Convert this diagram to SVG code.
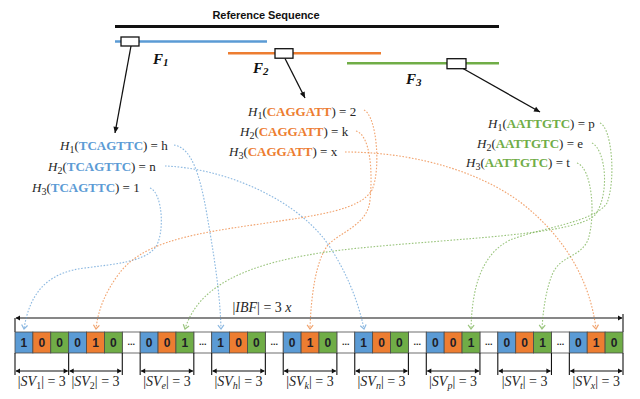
<svg xmlns="http://www.w3.org/2000/svg" width="640" height="399" viewBox="0 0 640 399">
<style>
.t{font-family:"Liberation Serif",serif;font-size:13px;fill:#262626}
.i{font-style:italic}
.sb{font-weight:bold}
.cb{fill:#5b9bd5}.co{fill:#ed7d31}.cg{fill:#70ad47}
.cell{stroke:#4a4a4a;stroke-width:0.8}
.w{fill:#ffffff}
.d{font-family:"Liberation Sans",sans-serif;font-weight:bold;font-size:12px;fill:#1e1e28;text-anchor:middle}
.dots{font-family:"Liberation Sans",sans-serif;font-weight:bold;font-size:9px;fill:#222;text-anchor:middle}
.lab{font-family:"Liberation Serif",serif;font-size:14px;fill:#262626;text-anchor:middle}
.br{stroke:#111;stroke-width:1.1;fill:none}
.bra{stroke:#111;stroke-width:1.1;fill:none;marker-start:url(#ah);marker-end:url(#ah)}
.dl{fill:none;stroke-width:1.1;stroke-dasharray:1.6 1.6;opacity:0.7}
.lb{stroke:#5b9bd5;marker-end:url(#mb)}
.lo{stroke:#ed7d31;marker-end:url(#mo)}
.lg{stroke:#70ad47;marker-end:url(#mg)}
.ka{stroke:#111;stroke-width:1.3;fill:none;marker-end:url(#ak)}
.box{fill:#fff;stroke:#111;stroke-width:1.3}
.fl{font-family:"Liberation Serif",serif;font-weight:bold;font-style:italic;font-size:15px;fill:#111}
</style>
<defs>
<marker id="ak" markerWidth="8" markerHeight="8" refX="6" refY="3" orient="auto" markerUnits="userSpaceOnUse" overflow="visible"><path d="M0,0.3 L6,3 L0,5.7 z" fill="#111"/></marker>
<marker id="ah" markerWidth="6" markerHeight="6" refX="4" refY="2.5" orient="auto-start-reverse" markerUnits="userSpaceOnUse" overflow="visible"><path d="M0,0 L4.5,2.5 L0,5 z" fill="#111"/></marker>
<marker id="mb" markerWidth="8" markerHeight="8" refX="4" refY="3" orient="auto" markerUnits="userSpaceOnUse" overflow="visible"><path d="M0,0 L4,3 L0,6" fill="none" stroke="#5b9bd5" stroke-width="1.2"/></marker>
<marker id="mo" markerWidth="8" markerHeight="8" refX="4" refY="3" orient="auto" markerUnits="userSpaceOnUse" overflow="visible"><path d="M0,0 L4,3 L0,6" fill="none" stroke="#ed7d31" stroke-width="1.2"/></marker>
<marker id="mg" markerWidth="8" markerHeight="8" refX="4" refY="3" orient="auto" markerUnits="userSpaceOnUse" overflow="visible"><path d="M0,0 L4,3 L0,6" fill="none" stroke="#70ad47" stroke-width="1.2"/></marker>
</defs>
<rect width="640" height="399" fill="#fff"/>

<g id="reference">
<text x="266" y="19" font-family="Liberation Sans,sans-serif" font-weight="bold" font-size="11" fill="#111" text-anchor="middle" textLength="107">Reference Sequence</text>
<line x1="115" y1="26.5" x2="499" y2="26.5" stroke="#111" stroke-width="2.8"/>
</g>

<g id="F1">
<line x1="115" y1="41.5" x2="267" y2="41.5" stroke="#5b9bd5" stroke-width="2.4"/>
<rect class="box" x="121" y="37" width="18" height="9"/>
<text class="fl" x="153" y="64">F<tspan font-size="11" dy="2">1</tspan></text>
</g>
<g id="F2">
<line x1="228" y1="53.3" x2="381" y2="53.3" stroke="#ed7d31" stroke-width="2.4"/>
<rect class="box" x="275" y="48.7" width="18" height="9.5"/>
<text class="fl" x="253" y="73">F<tspan font-size="11" dy="2">2</tspan></text>
</g>
<g id="F3">
<line x1="347" y1="63.3" x2="499" y2="63.3" stroke="#70ad47" stroke-width="2.4"/>
<rect class="box" x="447" y="58.7" width="19" height="10"/>
<text class="fl" x="406" y="84">F<tspan font-size="11" dy="2">3</tspan></text>
</g>

<g id="hash-F1">
<text class="t" x="60" y="150"><tspan class="i">H</tspan><tspan font-size="10" dy="3">1</tspan><tspan dy="-3">(</tspan><tspan class="sb cb">TCAGTTC</tspan>) = h</text>
<text class="t" x="48" y="171"><tspan class="i">H</tspan><tspan font-size="10" dy="3">2</tspan><tspan dy="-3">(</tspan><tspan class="sb cb">TCAGTTC</tspan>) = n</text>
<text class="t" x="32" y="192"><tspan class="i">H</tspan><tspan font-size="10" dy="3">3</tspan><tspan dy="-3">(</tspan><tspan class="sb cb">TCAGTTC</tspan>) = 1</text>
</g>
<g id="hash-F2">
<text class="t" x="248" y="116"><tspan class="i">H</tspan><tspan font-size="10" dy="3">1</tspan><tspan dy="-3">(</tspan><tspan class="sb co">CAGGATT</tspan>) = 2</text>
<text class="t" x="240" y="136"><tspan class="i">H</tspan><tspan font-size="10" dy="3">2</tspan><tspan dy="-3">(</tspan><tspan class="sb co">CAGGATT</tspan>) = k</text>
<text class="t" x="229" y="156"><tspan class="i">H</tspan><tspan font-size="10" dy="3">3</tspan><tspan dy="-3">(</tspan><tspan class="sb co">CAGGATT</tspan>) = x</text>
</g>
<g id="hash-F3">
<text class="t" x="488" y="128"><tspan class="i">H</tspan><tspan font-size="10" dy="3">1</tspan><tspan dy="-3">(</tspan><tspan class="sb cg">AATTGTC</tspan>) = p</text>
<text class="t" x="477" y="148"><tspan class="i">H</tspan><tspan font-size="10" dy="3">2</tspan><tspan dy="-3">(</tspan><tspan class="sb cg">AATTGTC</tspan>) = e</text>
<text class="t" x="466" y="167"><tspan class="i">H</tspan><tspan font-size="10" dy="3">3</tspan><tspan dy="-3">(</tspan><tspan class="sb cg">AATTGTC</tspan>) = t</text>
</g>

<g id="ibf">
<line class="br" x1="15" y1="318" x2="15" y2="332"/>
<line class="br" x1="623" y1="314" x2="623" y2="332"/>
<line class="bra" x1="16" y1="318" x2="622" y2="318"/>
<text class="lab" x="262" y="312">|<tspan class="i">IBF</tspan>| = 3 <tspan class="i">x</tspan></text>
<g id="gaps">
<rect class="cell w" x="122.29" y="332" width="17.88" height="21"/><text class="dots" x="131.23" y="345">...</text>
<rect class="cell w" x="193.82" y="332" width="17.88" height="21"/><text class="dots" x="202.76" y="345">...</text>
<rect class="cell w" x="265.35" y="332" width="17.88" height="21"/><text class="dots" x="274.29" y="345">...</text>
<rect class="cell w" x="336.88" y="332" width="17.88" height="21"/><text class="dots" x="345.82" y="345">...</text>
<rect class="cell w" x="408.40" y="332" width="17.88" height="21"/><text class="dots" x="417.34" y="345">...</text>
<rect class="cell w" x="479.93" y="332" width="17.88" height="21"/><text class="dots" x="488.87" y="345">...</text>
<rect class="cell w" x="551.46" y="332" width="17.88" height="21"/><text class="dots" x="560.40" y="345">...</text>
</g>
</g>

<g id="sv1">
<rect class="cell cb" x="15.00" y="332" width="17.88" height="21"/><text class="d" x="23.94" y="347">1</text>
<rect class="cell co" x="32.88" y="332" width="17.88" height="21"/><text class="d" x="41.82" y="347">0</text>
<rect class="cell cg" x="50.76" y="332" width="17.88" height="21"/><text class="d" x="59.70" y="347">0</text>
<path class="br" d="M15,353V375M68.65,353V375"/><line class="bra" x1="16" y1="371" x2="67.6" y2="371"/>
<text class="lab" x="41.8" y="386">|<tspan class="i">SV</tspan><tspan font-size="10" dy="2.5">1</tspan><tspan dy="-2.5">| = 3</tspan></text>
</g>
<g id="sv2">
<rect class="cell cb" x="68.65" y="332" width="17.88" height="21"/><text class="d" x="77.59" y="347">0</text>
<rect class="cell co" x="86.53" y="332" width="17.88" height="21"/><text class="d" x="95.47" y="347">1</text>
<rect class="cell cg" x="104.41" y="332" width="17.88" height="21"/><text class="d" x="113.35" y="347">0</text>
<path class="br" d="M122.29,353V375"/><line class="bra" x1="69.7" y1="371" x2="121.2" y2="371"/>
<text class="lab" x="95.5" y="386">|<tspan class="i">SV</tspan><tspan font-size="10" dy="2.5">2</tspan><tspan dy="-2.5">| = 3</tspan></text>
</g>
<g id="sve">
<rect class="cell cb" x="140.17" y="332" width="17.88" height="21"/><text class="d" x="149.11" y="347">0</text>
<rect class="cell co" x="158.06" y="332" width="17.88" height="21"/><text class="d" x="167.00" y="347">0</text>
<rect class="cell cg" x="175.94" y="332" width="17.88" height="21"/><text class="d" x="184.88" y="347">1</text>
<path class="br" d="M140.17,353V375M193.82,353V375"/><line class="bra" x1="141.2" y1="371" x2="192.8" y2="371"/>
<text class="lab" x="167" y="386">|<tspan class="i">SV</tspan><tspan class="i" font-size="10" dy="2.5">e</tspan><tspan dy="-2.5">| = 3</tspan></text>
</g>
<g id="svh">
<rect class="cell cb" x="211.70" y="332" width="17.88" height="21"/><text class="d" x="220.64" y="347">1</text>
<rect class="cell co" x="229.58" y="332" width="17.88" height="21"/><text class="d" x="238.52" y="347">0</text>
<rect class="cell cg" x="247.47" y="332" width="17.88" height="21"/><text class="d" x="256.41" y="347">0</text>
<path class="br" d="M211.7,353V375M265.35,353V375"/><line class="bra" x1="212.7" y1="371" x2="264.3" y2="371"/>
<text class="lab" x="238.5" y="386">|<tspan class="i">SV</tspan><tspan class="i" font-size="10" dy="2.5">h</tspan><tspan dy="-2.5">| = 3</tspan></text>
</g>
<g id="svk">
<rect class="cell cb" x="283.23" y="332" width="17.88" height="21"/><text class="d" x="292.17" y="347">0</text>
<rect class="cell co" x="301.11" y="332" width="17.88" height="21"/><text class="d" x="310.05" y="347">1</text>
<rect class="cell cg" x="318.99" y="332" width="17.88" height="21"/><text class="d" x="327.93" y="347">0</text>
<path class="br" d="M283.23,353V375M336.88,353V375"/><line class="bra" x1="284.2" y1="371" x2="335.8" y2="371"/>
<text class="lab" x="310" y="386">|<tspan class="i">SV</tspan><tspan class="i" font-size="10" dy="2.5">k</tspan><tspan dy="-2.5">| = 3</tspan></text>
</g>
<g id="svn">
<rect class="cell cb" x="354.76" y="332" width="17.88" height="21"/><text class="d" x="363.70" y="347">1</text>
<rect class="cell co" x="372.64" y="332" width="17.88" height="21"/><text class="d" x="381.58" y="347">0</text>
<rect class="cell cg" x="390.52" y="332" width="17.88" height="21"/><text class="d" x="399.46" y="347">0</text>
<path class="br" d="M354.76,353V375M408.4,353V375"/><line class="bra" x1="355.8" y1="371" x2="407.4" y2="371"/>
<text class="lab" x="381.6" y="386">|<tspan class="i">SV</tspan><tspan class="i" font-size="10" dy="2.5">n</tspan><tspan dy="-2.5">| = 3</tspan></text>
</g>
<g id="svp">
<rect class="cell cb" x="426.29" y="332" width="17.88" height="21"/><text class="d" x="435.23" y="347">0</text>
<rect class="cell co" x="444.17" y="332" width="17.88" height="21"/><text class="d" x="453.11" y="347">0</text>
<rect class="cell cg" x="462.05" y="332" width="17.88" height="21"/><text class="d" x="470.99" y="347">1</text>
<path class="br" d="M426.29,353V375M479.93,353V375"/><line class="bra" x1="427.3" y1="371" x2="478.9" y2="371"/>
<text class="lab" x="453.1" y="386">|<tspan class="i">SV</tspan><tspan class="i" font-size="10" dy="2.5">p</tspan><tspan dy="-2.5">| = 3</tspan></text>
</g>
<g id="svt">
<rect class="cell cb" x="497.81" y="332" width="17.88" height="21"/><text class="d" x="506.75" y="347">0</text>
<rect class="cell co" x="515.70" y="332" width="17.88" height="21"/><text class="d" x="524.64" y="347">0</text>
<rect class="cell cg" x="533.58" y="332" width="17.88" height="21"/><text class="d" x="542.52" y="347">1</text>
<path class="br" d="M497.81,353V375M551.46,353V375"/><line class="bra" x1="498.8" y1="371" x2="550.4" y2="371"/>
<text class="lab" x="524.6" y="386">|<tspan class="i">SV</tspan><tspan class="i" font-size="10" dy="2.5">t</tspan><tspan dy="-2.5">| = 3</tspan></text>
</g>
<g id="svx">
<rect class="cell cb" x="569.34" y="332" width="17.88" height="21"/><text class="d" x="578.28" y="347">0</text>
<rect class="cell co" x="587.22" y="332" width="17.88" height="21"/><text class="d" x="596.16" y="347">1</text>
<rect class="cell cg" x="605.11" y="332" width="17.88" height="21"/><text class="d" x="614.05" y="347">0</text>
<path class="br" d="M569.34,353V375M623,353V375"/><line class="bra" x1="570.3" y1="371" x2="622" y2="371"/>
<text class="lab" x="596.2" y="386">|<tspan class="i">SV</tspan><tspan class="i" font-size="10" dy="2.5">x</tspan><tspan dy="-2.5">| = 3</tspan></text>
</g>

<g id="connectors">
<line class="ka" x1="131" y1="46" x2="115" y2="133"/>
<line class="ka" x1="285" y1="58.5" x2="305" y2="98"/>
<line class="ka" x1="463" y1="68.5" x2="540" y2="112"/>
<path class="dl lb" d="M174,145 C192,148 200,175 207,215 C213,250 220,290 221,329"/>
<path class="dl lb" d="M165,166 C220,168 290,195 325,240 C345,268 358,300 364,329"/>
<path class="dl lb" d="M150,188 C163,193 165,235 155,248 C143,262 115,264 85,268 C50,272 30,290 24,329"/>
<path class="dl lo" d="M364,110 C377,116 381,170 372,190 C360,210 320,215 260,224 C180,235 140,245 118,275 C105,293 98,310 96,329"/>
<path class="dl lo" d="M356,131 C370,135 373,170 370,200 C368,225 340,232 328,245 C316,260 311,295 310,329"/>
<path class="dl lo" d="M345,152 C420,152 490,175 530,210 C565,240 590,280 596,329"/>
<path class="dl lg" d="M600,123 C612,128 616,180 607,203 C595,222 540,228 510,240 C480,255 472,290 471,329"/>
<path class="dl lg" d="M592,143 C606,150 610,195 595,215 C575,235 460,238 360,248 C260,258 200,280 185,329"/>
<path class="dl lg" d="M577,163 C592,168 596,215 588,240 C580,258 560,255 552,275 C546,290 543,310 542,329"/>
</g>
</svg>
